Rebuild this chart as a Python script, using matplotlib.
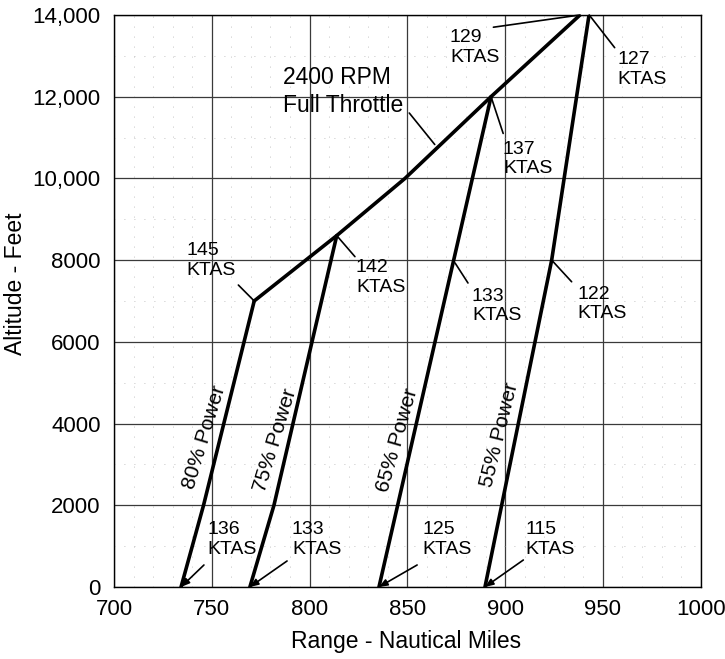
import numpy as np
import matplotlib
matplotlib.use('Agg')
from matplotlib import pyplot as plt
from matplotlib.ticker import MultipleLocator

plt.rcParams['font.family'] = ['Liberation Sans', 'DejaVu Sans']

# power-setting lines: (range nm, altitude ft)
p80_range = [734.3, 745.8, 771.7]
p80_alt = [0, 2000, 7000]
p75_range = [769.5, 781.8, 813.9]
p75_alt = [0, 2000, 8600]
p65_range = [835.5, 892.8]
p65_alt = [0, 12000]
p55_range = [889.7, 923.8, 942.9]
p55_alt = [0, 8000, 14000]
# 2400 rpm full throttle line
ft_range = [771.7, 813.9, 848.8, 892.8, 938.3]
ft_alt = [7000, 8600, 10000, 12000, 14000]

power_labels = ['80% Power', '75% Power', '65% Power', '55% Power']
power_label_pos = [(746, 3670), (782.3, 3600), (844.7, 3600), (897.4, 3720)]
power_label_rot = [73, 73, 74, 76]

# speed notes: text, text anchor (left, v-centre), pointer start, pointer end
ktas_text = ['145\nKTAS', '142\nKTAS', '137\nKTAS', '129\nKTAS', '127\nKTAS',
             '133\nKTAS', '122\nKTAS']
ktas_pos = [(737.2, 7985), (823.7, 7575), (898.9, 10475), (871.8, 13200),
            (957.2, 12670), (883, 6880), (937, 6925)]
ktas_from = [(763.6, 7390), (823.2, 8085), (899, 11100), (894, 13700),
             (956, 13200), (881, 7440), (934, 7470)]
ktas_to = [(771.7, 7000), (813.9, 8600), (892.8, 12000), (938.3, 14000),
           (943, 14000), (874.4, 7930), (923.8, 8000)]

# sea level speeds, pointers with arrow heads
sl_text = ['136\nKTAS', '133\nKTAS', '125\nKTAS', '115\nKTAS']
sl_pos = [(748, 1160), (791, 1160), (857.8, 1160), (910.5, 1160)]
sl_from = [(746, 538), (788.5, 636), (855, 538), (909.3, 660)]
sl_to = [(734.3, 0), (769.5, 0), (835.5, 0), (889.7, 0)]

xticks = [700, 750, 800, 850, 900, 950, 1000]
yticks = [0, 2000, 4000, 6000, 8000, 10000, 12000, 14000]
ytick_labels = ['0', '2000', '4000', '6000', '8000', '10,000', '12,000', '14,000']

fig = plt.figure(figsize=(7.25, 6.59), dpi=100)
ax = fig.add_axes([0.1572, 0.1093, 0.8093, 0.8680])

ax.set_xlim(700, 1000)
ax.set_ylim(0, 14000)
ax.set_xticks(xticks)
ax.set_yticks(yticks)
ax.set_yticklabels(ytick_labels)
ax.xaxis.set_minor_locator(MultipleLocator(10))
ax.yaxis.set_minor_locator(MultipleLocator(1000))
ax.tick_params(which='both', length=0)
ax.tick_params(axis='x', labelsize=16, pad=9)
ax.tick_params(axis='y', labelsize=16, pad=9.5)
ax.grid(which='major', color='#3a3a3a', lw=0.9)
ax.grid(which='minor', color='#b0b0b0', lw=0.6, linestyle=(0, (1, 11)))
ax.set_axisbelow(True)
for s in ax.spines.values():
    s.set_color('black')
    s.set_linewidth(1.0)

lw = 2.6
for xr, ya in [(p80_range, p80_alt), (p75_range, p75_alt),
               (p65_range, p65_alt), (p55_range, p55_alt), (ft_range, ft_alt)]:
    ax.plot(xr, ya, color='black', lw=lw, solid_capstyle='round', zorder=3)

for lab, (x, y), r in zip(power_labels, power_label_pos, power_label_rot):
    ax.text(x, y, lab, rotation=r, rotation_mode='anchor', ha='center',
            va='center', fontsize=15)

ax.text(786.4, 12130, '2400 RPM\nFull Throttle', ha='left', va='center',
        fontsize=16.5, linespacing=1.3)
ax.annotate('', xy=(864, 10830), xytext=(851, 11600),
            arrowprops=dict(arrowstyle='-', color='black', lw=1.2, shrinkA=0, shrinkB=0))

for t, p, a, b in zip(ktas_text, ktas_pos, ktas_from, ktas_to):
    ax.text(p[0], p[1], t, ha='left', va='center', fontsize=14, linespacing=1.2)
    ax.annotate('', xy=b, xytext=a,
                arrowprops=dict(arrowstyle='-', color='black', lw=1.2,
                                shrinkA=0, shrinkB=0))

for t, p, a, b in zip(sl_text, sl_pos, sl_from, sl_to):
    ax.text(p[0], p[1], t, ha='left', va='center', fontsize=14, linespacing=1.2)
    ax.annotate('', xy=b, xytext=a,
                arrowprops=dict(arrowstyle='-|>,head_length=0.5,head_width=0.2',
                                color='black', lw=1.2, shrinkA=0, shrinkB=0))

ax.set_xlabel('Range - Nautical Miles', fontsize=16.5)
ax.set_ylabel('Altitude - Feet', fontsize=16.5)
ax.xaxis.set_label_coords(0.497, -0.076)
ax.yaxis.set_label_coords(-0.149, 0.53)

fig.savefig('out.png', dpi=100)
